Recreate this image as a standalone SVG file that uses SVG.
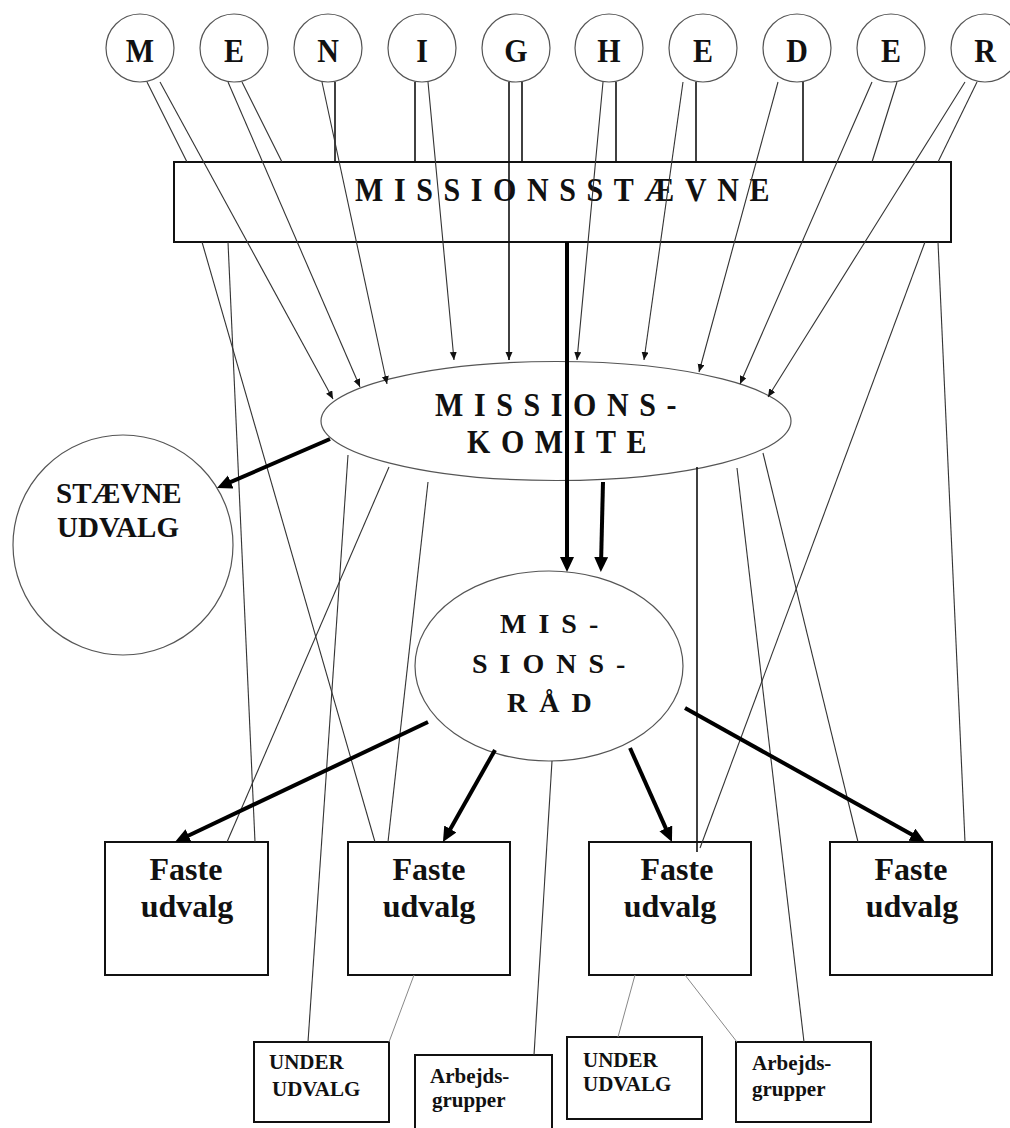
<svg xmlns="http://www.w3.org/2000/svg" width="1010" height="1128" viewBox="0 0 1010 1128">
<style>
.t{font-family:"Liberation Serif","Times New Roman",serif;font-weight:bold;fill:#111}
.sp{letter-spacing:10.6px;font-size:30px}
.rd{letter-spacing:12px;font-size:28px}
.lt{font-size:30px;text-anchor:middle}
.fa{font-size:32px;text-anchor:middle}
.sm{font-size:21px}
.circ{fill:#fff;stroke:#555;stroke-width:1.2}
.box{fill:#fff;stroke:#111;stroke-width:2}
.thin{stroke:#333;stroke-width:1.1;fill:none}
.dark{stroke:#111;stroke-width:1.6;fill:none}
.light{stroke:#888;stroke-width:1;fill:none}
.thick{stroke:#000;stroke-width:4;fill:none}
</style>
<defs>
<marker id="a" markerUnits="userSpaceOnUse" markerWidth="9" markerHeight="8" refX="8" refY="3.5" orient="auto"><path d="M0,0 L8,3.5 L0,7 z" fill="#111"/></marker>
<marker id="A" markerUnits="userSpaceOnUse" markerWidth="16" markerHeight="15" refX="8" refY="7" orient="auto"><path d="M0,0 L15,7 L0,14 z" fill="#000"/></marker>
</defs>
<rect width="1010" height="1128" fill="#fff"/>
<g id="nodes">
<g id="c-M"><circle class="circ" cx="140" cy="48" r="34"/><text class="t lt" x="140" y="62" transform="matrix(1 0 0 1.15 0 -9.3)">M</text></g>
<g id="c-E1"><circle class="circ" cx="234" cy="48" r="34"/><text class="t lt" x="234" y="62" transform="matrix(1 0 0 1.15 0 -9.3)">E</text></g>
<g id="c-N"><circle class="circ" cx="328" cy="48" r="34"/><text class="t lt" x="328" y="62" transform="matrix(1 0 0 1.15 0 -9.3)">N</text></g>
<g id="c-I"><circle class="circ" cx="422" cy="48" r="34"/><text class="t lt" x="422" y="62" transform="matrix(1 0 0 1.15 0 -9.3)">I</text></g>
<g id="c-G"><circle class="circ" cx="516" cy="48" r="34"/><text class="t lt" x="516" y="62" transform="matrix(1 0 0 1.15 0 -9.3)">G</text></g>
<g id="c-H"><circle class="circ" cx="609" cy="48" r="34"/><text class="t lt" x="609" y="62" transform="matrix(1 0 0 1.15 0 -9.3)">H</text></g>
<g id="c-E2"><circle class="circ" cx="703" cy="48" r="34"/><text class="t lt" x="703" y="62" transform="matrix(1 0 0 1.15 0 -9.3)">E</text></g>
<g id="c-D"><circle class="circ" cx="797" cy="48" r="34"/><text class="t lt" x="797" y="62" transform="matrix(1 0 0 1.15 0 -9.3)">D</text></g>
<g id="c-E3"><circle class="circ" cx="891" cy="48" r="34"/><text class="t lt" x="891" y="62" transform="matrix(1 0 0 1.15 0 -9.3)">E</text></g>
<g id="c-R"><circle class="circ" cx="985" cy="48" r="34"/><text class="t lt" x="985" y="62" transform="matrix(1 0 0 1.15 0 -9.3)">R</text></g>

<g id="missionsstaevne"><rect class="box" x="174" y="162" width="777" height="80"/><text class="t sp" x="355" y="201" transform="matrix(1 0 0 1.15 0 -30.15)">MISSIONSSTÆVNE</text></g>

<g id="missionskomite"><ellipse class="circ" cx="556" cy="421" rx="235" ry="59.5"/>
<text class="t sp" x="435" y="416" transform="matrix(1 0 0 1.15 0 -62.4)">MISSIONS-</text>
<text class="t sp" x="467" y="453" transform="matrix(1 0 0 1.15 0 -67.95)">KOMITE</text></g>

<g id="staevneudvalg"><circle class="circ" cx="123" cy="545" r="110"/>
<text class="t" style="font-size:29px" x="56" y="503">STÆVNE</text>
<text class="t" style="font-size:29px" x="57" y="537">UDVALG</text></g>

<g id="missionsraad"><ellipse class="circ" cx="549" cy="666" rx="134" ry="95"/>
<text class="t rd" x="500" y="633">MIS-</text>
<text class="t rd" x="472" y="673">SIONS-</text>
<text class="t rd" x="507" y="712">RÅD</text></g>

<g id="faste1"><rect class="box" x="105" y="842" width="163" height="133"/><text class="t fa" x="186" y="880">Faste</text><text class="t fa" x="187" y="917">udvalg</text></g>
<g id="faste2"><rect class="box" x="348" y="842" width="162" height="133"/><text class="t fa" x="429" y="880">Faste</text><text class="t fa" x="429" y="917">udvalg</text></g>
<g id="faste3"><rect class="box" x="589" y="842" width="162" height="133"/><text class="t fa" x="677" y="880">Faste</text><text class="t fa" x="670" y="917">udvalg</text></g>
<g id="faste4"><rect class="box" x="830" y="842" width="162" height="133"/><text class="t fa" x="911" y="880">Faste</text><text class="t fa" x="912" y="917">udvalg</text></g>

<g id="underudvalg1"><rect class="box" x="254" y="1042" width="135" height="80"/><text class="t sm" x="269" y="1069">UNDER</text><text class="t sm" x="272" y="1096">UDVALG</text></g>
<g id="arbejdsgrupper1"><rect class="box" x="415" y="1055" width="137" height="82"/><text class="t sm" x="430" y="1083">Arbejds-</text><text class="t sm" x="432" y="1107">grupper</text></g>
<g id="underudvalg2"><rect class="box" x="567" y="1037" width="135" height="82"/><text class="t sm" x="583" y="1067">UNDER</text><text class="t sm" x="583" y="1091">UDVALG</text></g>
<g id="arbejdsgrupper2"><rect class="box" x="736" y="1042" width="135" height="80"/><text class="t sm" x="752" y="1070">Arbejds-</text><text class="t sm" x="752" y="1096">grupper</text></g>
</g>

<g id="connectors">
<!-- letters to stævne box -->
<line class="thin" x1="147" y1="82" x2="187" y2="162"/>
<line class="thin" x1="242" y1="82" x2="282" y2="162"/>
<line class="dark" x1="335" y1="82" x2="335" y2="162"/>
<line class="dark" x1="415" y1="82" x2="415" y2="162"/>
<line class="dark" x1="522" y1="82" x2="522" y2="162"/>
<line class="dark" x1="616" y1="82" x2="616" y2="162"/>
<line class="dark" x1="696" y1="82" x2="696" y2="162"/>
<line class="dark" x1="803" y1="82" x2="803" y2="162"/>
<line class="thin" x1="897" y1="82" x2="872" y2="162"/>
<line class="thin" x1="977" y1="82" x2="938" y2="162"/>
<!-- letters to komite -->
<line class="thin" x1="160" y1="82" x2="333" y2="399" marker-end="url(#a)"/>
<line class="thin" x1="228" y1="82" x2="360" y2="387" marker-end="url(#a)"/>
<line class="thin" x1="322" y1="82" x2="387" y2="384" marker-end="url(#a)"/>
<line class="thin" x1="428" y1="82" x2="454" y2="360" marker-end="url(#a)"/>
<line class="dark" x1="509" y1="82" x2="509" y2="360" marker-end="url(#a)"/>
<line class="thin" x1="603" y1="82" x2="577" y2="360" marker-end="url(#a)"/>
<line class="thin" x1="683" y1="82" x2="644" y2="360" marker-end="url(#a)"/>
<line class="thin" x1="778" y1="82" x2="699" y2="372" marker-end="url(#a)"/>
<line class="thin" x1="872" y1="82" x2="740" y2="384" marker-end="url(#a)"/>
<line class="thin" x1="965" y1="82" x2="768" y2="397" marker-end="url(#a)"/>
<!-- stævne box to faste boxes -->
<line class="thin" x1="202" y1="242" x2="375" y2="842"/>
<line class="thin" x1="228" y1="242" x2="255" y2="842"/>
<line class="thin" x1="925" y1="242" x2="700" y2="848"/>
<line class="thin" x1="938" y1="242" x2="965" y2="842"/>
<!-- komite bottom -->
<line class="thin" x1="348" y1="455" x2="308" y2="1042"/>
<line class="thin" x1="389" y1="467" x2="227" y2="842"/>
<line class="thin" x1="428" y1="482" x2="388" y2="842"/>
<line class="dark" x1="697" y1="467" x2="697" y2="852"/>
<line class="thin" x1="737" y1="468" x2="804" y2="1042"/>
<line class="thin" x1="763" y1="453" x2="858" y2="842"/>
<!-- missionsråd bottom -->
<line class="thin" x1="552" y1="761" x2="534" y2="1055"/>
<!-- faste to sub groups -->
<line class="light" x1="414" y1="975" x2="389" y2="1042"/>
<line class="light" x1="635" y1="975" x2="618" y2="1037"/>
<line class="light" x1="685" y1="975" x2="737" y2="1042"/>
<!-- thick arrows -->
<line class="thick" x1="567" y1="242" x2="567" y2="565" marker-end="url(#A)"/>
<line class="thick" x1="603" y1="482" x2="601" y2="565" marker-end="url(#A)"/>
<line class="thick" x1="330" y1="439" x2="223.4" y2="485.2" marker-end="url(#A)"/>
<line class="thick" x1="428" y1="722" x2="181.3" y2="839" marker-end="url(#A)"/>
<line class="thick" x1="495" y1="750" x2="446.4" y2="835.9" marker-end="url(#A)"/>
<line class="thick" x1="630" y1="748" x2="669.1" y2="835.6" marker-end="url(#A)"/>
<line class="thick" x1="685" y1="708" x2="918.9" y2="838.6" marker-end="url(#A)"/>
</g>
</svg>
